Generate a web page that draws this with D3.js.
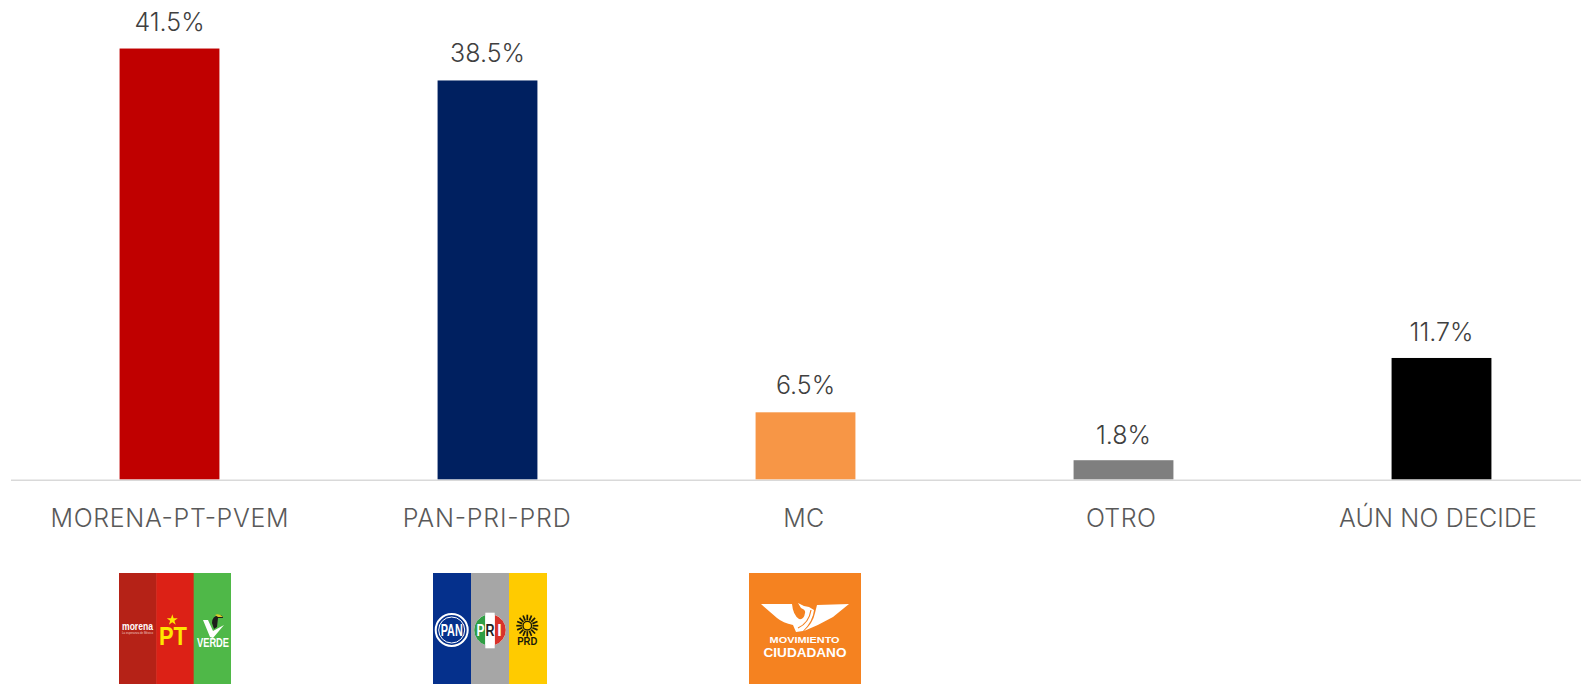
<!DOCTYPE html>
<html><head><meta charset="utf-8">
<script src="https://cdn.jsdelivr.net/npm/d3@7"></script>
<style>html,body{margin:0;padding:0;background:#fff;overflow:hidden}svg{display:block}
text{font-family:"Inter","Lato",sans-serif;font-weight:300}</style></head>
<body><svg id="c" width="1581" height="684"></svg>
<script>
const categories=["MORENA-PT-PVEM","PAN-PRI-PRD","MC","OTRO","AÚN NO DECIDE"];
const values=[41.54,38.46,6.46,1.84,11.7];
const barColors=["#c00000","#002060","#f79646","#7f7f7f","#000000"];
const logoStripes=[["#b52217","#dc2116","#4fb848"],["#05308c","#a6a6a6","#ffcb00"],["#f58220"]];

const W=1581,H=684;
const svg=d3.select("#c");
const x=d3.scaleBand().domain(categories).range([10.5,1600.5]).paddingInner(0.686).paddingOuter(0.343);
const xLabel=d3.scalePoint().domain(categories).range([169.5,1438]);
const y=d3.scaleLinear().domain([0,40]).range([479.3,64.5]);
const fmt=d=>d.toFixed(1)+"%";
const valueLift=[17.5,18.7,18.7,16.7,17];
const labelWidth=[238,168,41,70,198];
const data=categories.map((c,i)=>({c,v:values[i],col:barColors[i],lift:valueLift[i],w:labelWidth[i]}));

svg.append("line").attr("x1",11).attr("x2",W).attr("y1",480.2).attr("y2",480.2)
 .attr("stroke","#d9d9d9").attr("stroke-width",1.5);

svg.selectAll("rect.bar").data(data).join("rect").attr("class","bar")
 .attr("x",d=>x(d.c)).attr("width",x.bandwidth())
 .attr("y",d=>y(d.v)).attr("height",d=>y(0)-y(d.v)).attr("fill",d=>d.col);

svg.selectAll("text.val").data(data).join("text").attr("class","val")
 .attr("x",d=>x(d.c)+x.bandwidth()/2).attr("y",d=>y(d.v)-d.lift)
 .attr("text-anchor","middle").attr("font-size",25).attr("fill","#404040").text(d=>fmt(d.v));

svg.selectAll("text.cat").data(data).join("text").attr("class","cat")
 .attr("x",d=>xLabel(d.c)).attr("y",526.5)
 .attr("text-anchor","middle").attr("font-size",25).attr("textLength",d=>d.w).attr("lengthAdjust","spacing").attr("fill","#595959").text(d=>d.c);

// logos
const logoX=[119,433,749],logoW=[112,114,112],logoTop=573,logoH=111;
const logos=svg.selectAll("g.logo").data(logoStripes).join("g").attr("class","logo")
 .attr("transform",(d,i)=>`translate(${logoX[i]},${logoTop})`);
logos.each(function(st,i){
 const g=d3.select(this),w=logoW[i];
 st.forEach((c,j)=>g.append("rect").attr("x",j*w/st.length).attr("y",0)
   .attr("width",w/st.length+(j<st.length-1?.5:0)).attr("height",logoH).attr("fill",c));
});
const T=(g,s,x,y,fs,fill,len,w=700)=>{
 const t=g.append("text").attr("x",x).attr("y",y).attr("text-anchor","middle")
 .attr("font-size",fs).attr("fill",fill).style("font-weight",w).style("font-family","Liberation Sans").text(s);
 if(len) t.attr("textLength",len).attr("lengthAdjust","spacingAndGlyphs");
 return t;};
// logo 1
const l1=d3.select(logos.nodes()[0]);
T(l1,"morena",18.5,57,10.5,"#fff",31);
T(l1,"La esperanza de México",18.5,60.5,3,"#f0c8c0",31,400);
T(l1,"PT",54,72,26.5,"#ffe600",28);
l1.append("path").attr("d",d3.symbol(d3.symbolStar,38)()).attr("transform","translate(53.3,47)").attr("fill","#ffe600");
T(l1,"VERDE",94,74.3,12.5,"#fff",32);
l1.append("path").attr("d","M84 47 L89 47 L94 58 L105 52 L94 65 L91 64Z").attr("fill","#fff");
l1.append("path").attr("d","M93 50 Q93 43 100 42 Q104 42 104 45 L99 45 L98 54 L95 56Z").attr("fill","#1d1d1b");
l1.append("path").attr("d","M96 42 Q100 40 104 44 L99 44Z").attr("fill","#d8c92a");
// logo 2
const l2=d3.select(logos.nodes()[1]);
l2.append("circle").attr("cx",18.7).attr("cy",57).attr("r",16).attr("fill","none").attr("stroke","#fff").attr("stroke-width",2);
l2.append("circle").attr("cx",18.7).attr("cy",57).attr("r",13).attr("fill","none").attr("stroke","#fff").attr("stroke-width",1);
T(l2,"PAN",18.7,63,17,"#fff",22);
l2.append("circle").attr("cx",57).attr("cy",57).attr("r",15.7).attr("fill","#fff");
l2.append("path").attr("d","M52.3 42 A15.7 15.7 0 0 0 52.3 72Z").attr("fill","#2f9e44");
l2.append("path").attr("d","M61.7 42 A15.7 15.7 0 0 1 61.7 72Z").attr("fill","#d8322a");
l2.append("rect").attr("x",52.3).attr("y",39.7).attr("width",9.4).attr("height",35.6).attr("fill","#fff");
T(l2,"P",47.5,62.5,16,"#fff",8);T(l2,"R",57,62.5,16,"#222",9);T(l2,"I",66.5,62.5,16,"#fff");
const sun=l2.append("g").attr("transform","translate(94.3,52.7)");
sun.selectAll("line").data(d3.range(16)).join("line")
 .attr("x1",d=>5.5*Math.cos(d*Math.PI/8)).attr("y1",d=>5.5*Math.sin(d*Math.PI/8))
 .attr("x2",d=>11*Math.cos(d*Math.PI/8)).attr("y2",d=>11*Math.sin(d*Math.PI/8))
 .attr("stroke","#1a1a0a").attr("stroke-width",1.7);
sun.append("circle").attr("r",4.3).attr("fill","#ffcb00").attr("stroke","#1a1a0a").attr("stroke-width",1.4);
T(l2,"PRD",94.3,72,11,"#1a1a0a",20);
// logo 3
const l3=d3.select(logos.nodes()[2]);
l3.append("path").attr("fill","#fff").attr("d","M12 31 L43 31 Q44 42 50 46 Q55 47 56 40 Q57 37 52 35 L49 30 L55 33 L60 34 L65 37 Q64 48 54 58 L47 59 L44 52 Q34 50 28 45Z");
l3.append("path").attr("fill","#fff").attr("d","M100 31 L68 32 L66 40 Q64 50 55 58 Q70 52 84 44Z");
l3.append("path").attr("fill","none").attr("stroke","#f58220").attr("stroke-width",1.2).attr("d","M62 37 Q60 50 49 55");
T(l3,"MOVIMIENTO",55.6,70.3,9.5,"#fff",70);
T(l3,"CIUDADANO",56,83.7,13,"#fff",83);
</script></body></html>
